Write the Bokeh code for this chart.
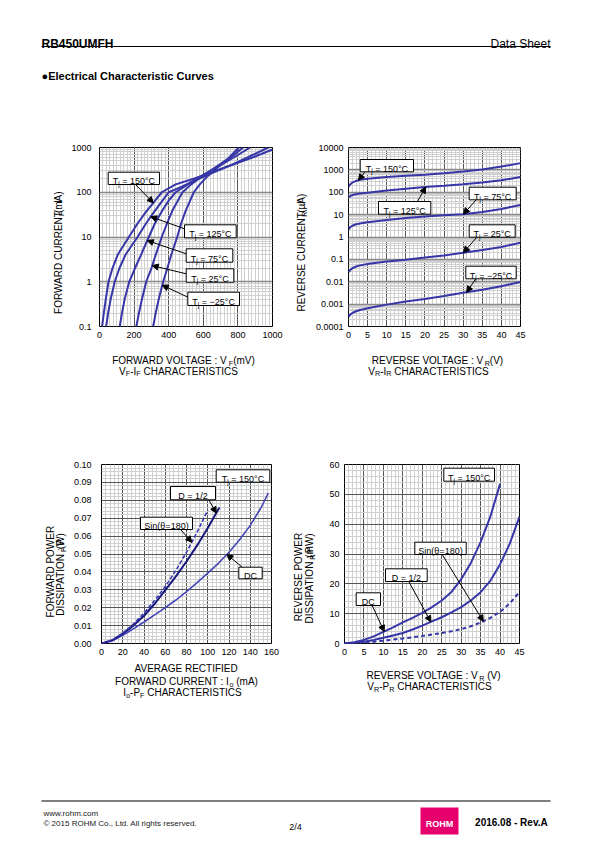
import numpy as np
from bokeh.plotting import figure
from bokeh.models import (Range1d, FixedTicker, NumeralTickFormatter, Label,
                          Arrow, NormalHead, BoxAnnotation)
from bokeh.layouts import column, row
from bokeh.embed import file_html
from bokeh.resources import INLINE

FONT = "Liberation Sans"
CURVE = "#3636a8"
NAVY = "#17177c"
MAJOR = "#555555"
MINOR = "#d0d0d0"

# ---------------- VF-IF (mV, mA) ----------------
vf_150 = [15, 25, 36, 52, 75, 105, 170, 220, 265, 311, 360, 440, 545, 650, 760, 880, 1000]
if_150 = [0.1, 0.2, 0.4, 1, 2, 4, 10, 20, 35, 58, 100, 150, 200, 280, 400, 590, 900]
vf_125 = [38, 50, 64, 88, 115, 150, 220, 265, 300, 350, 400, 470, 560, 660, 770, 870, 975]
if_125 = [0.1, 0.2, 0.4, 1, 2, 4, 10, 19, 30, 55, 100, 130, 190, 280, 420, 640, 1000]
vf_75 = [117, 130, 145, 172, 205, 240, 285, 320, 365, 400, 440, 500, 560, 640, 720, 800, 870]
if_75 = [0.1, 0.2, 0.4, 1, 2, 4, 10, 20, 40, 65, 100, 140, 200, 300, 450, 680, 1000]
vf_25 = [213, 228, 245, 270, 300, 325, 360, 390, 420, 450, 480, 530, 580, 640, 700, 770, 830]
if_25 = [0.1, 0.2, 0.4, 1, 2, 4, 10, 20, 38, 62, 100, 150, 210, 300, 430, 650, 1000]
vf_m25 = [310, 325, 342, 368, 392, 415, 449, 472, 495, 520, 545, 580, 620, 680, 740, 805]
if_m25 = [0.1, 0.2, 0.4, 1, 2, 4, 10, 20, 36, 60, 100, 150, 220, 350, 550, 1000]
vfif_xticks = [0, 200, 400, 600, 800, 1000]
vfif_yticks = [0.1, 1, 10, 100, 1000]

# ---------------- VR-IR (V, uA) ----------------
vr_v = [0, 0.5, 1, 2, 3, 5, 10, 15, 20, 25, 30, 35, 40, 45]
ir_150 = [180, 230, 270, 320, 360, 400, 480, 540, 600, 700, 850, 1050, 1400, 2000]
ir_125 = [60, 68, 75, 82, 88, 96, 120, 145, 170, 195, 225, 270, 340, 480]
ir_75 = [2.2, 2.8, 3.2, 3.7, 4.0, 4.6, 5.8, 7.0, 8.2, 9.3, 10.5, 13, 18, 27]
ir_25 = [0.027, 0.034, 0.04, 0.048, 0.054, 0.062, 0.08, 0.097, 0.12, 0.15, 0.2, 0.26, 0.36, 0.55]
ir_m25 = [0.00027, 0.00035, 0.0004, 0.00048, 0.00055, 0.00066, 0.00095, 0.0013, 0.0017,
          0.0023, 0.0032, 0.0044, 0.0063, 0.0098]
vrir_xticks = [0, 5, 10, 15, 20, 25, 30, 35, 40, 45]
vrir_yticks = [0.0001, 0.001, 0.01, 0.1, 1, 10, 100, 1000, 10000]

# ---------------- Io-PF (mA, W) ----------------
io_dc = [0, 10, 20, 30, 40, 50, 60, 70, 80, 90, 100, 110, 120, 130, 140, 150, 157]
pf_dc = [0, 0.0015, 0.0046, 0.0082, 0.0120, 0.0160, 0.0200, 0.0243, 0.0290, 0.0340, 0.0393,
         0.0448, 0.0510, 0.0580, 0.0660, 0.0757, 0.0840]
io_d = [0, 10, 20, 30, 40, 50, 60, 70, 80, 90, 100, 111]
pf_d = [0, 0.0018, 0.0055, 0.0100, 0.0155, 0.0222, 0.0298, 0.0375, 0.0458, 0.0548, 0.0645, 0.0760]
io_s = [0, 10, 20, 30, 40, 50, 60, 70, 80, 90, 100]
pf_s = [0, 0.0019, 0.0058, 0.0108, 0.0170, 0.0240, 0.0318, 0.0408, 0.0510, 0.0622, 0.0745]
iopf_xticks = [0, 20, 40, 60, 80, 100, 120, 140, 160]
iopf_yticks = [0, 0.01, 0.02, 0.03, 0.04, 0.05, 0.06, 0.07, 0.08, 0.09, 0.10]

# ---------------- VR-PR (V, mW) ----------------
vr_dc = [0, 2.5, 5, 7.5, 10, 12.5, 15, 17.5, 20, 22.5, 25, 27.5, 30, 32.5, 35, 37.5, 40]
pr_dc = [0, 0.4, 1.2, 2.4, 3.9, 5.4, 7.1, 8.6, 10.3, 12.2, 14.4, 17.3, 21.5, 27, 34, 42.5, 53.5]
vr_ds = [0, 2.5, 5, 7.5, 10, 12.5, 15, 17.5, 20, 22.5, 25, 27.5, 30, 32.5, 35, 37.5, 40, 42.5, 45]
pr_d = [0, 0.2, 0.6, 1.2, 1.9, 2.7, 3.5, 4.7, 6.0, 7.4, 8.8, 10.4, 12.2, 14.4, 17.2, 21, 26.5, 33.5, 42.5]
pr_s = [0, 0.1, 0.3, 0.6, 0.95, 1.3, 1.7, 2.1, 2.5, 3.0, 3.5, 4.1, 4.8, 5.8, 7.0, 8.6, 10.6, 13.4, 17.3]
vrpr_xticks = [0, 5, 10, 15, 20, 25, 30, 35, 40, 45]
vrpr_yticks = [0, 10, 20, 30, 40, 50, 60]

# ---------------- text helpers ----------------
AW = {' ': 278, '(': 333, ')': 333, '-': 333, '.': 278, '/': 278, ':': 278, '=': 584,
      '°': 400, 'µ': 556, '−': 584, 'θ': 556, ',': 278}
AW.update({d: 556 for d in "0123456789"})
AW.update(dict(zip("ABCDEFGHIJKLMNOPQRSTUVWXYZ",
                   [667, 667, 722, 722, 667, 611, 778, 722, 278, 500, 667, 556, 833, 722, 778,
                    667, 778, 722, 667, 611, 722, 667, 944, 667, 667, 611])))
AW.update(dict(zip("abcdefghijklmnopqrstuvwxyz",
                   [556, 556, 500, 556, 556, 278, 556, 556, 222, 222, 500, 222, 833, 556, 556,
                    556, 556, 333, 500, 278, 556, 500, 722, 500, 500, 500])))


def tw(s, size):
    return sum(AW.get(c, 556) for c in s) * size / 1000.0


def rich(p, fr, X, Y, pieces, size=10.0, align="center", vertical=False, color="black"):
    """Text pieces (text, is_subscript) from page coords X, Y (baseline anchor).
    fr = (frame_left, frame_bottom) for charts (screen units), None for page sheets."""
    sub = 0.72
    items = []
    for t, s in pieces:
        sz = size * sub if s else size
        items.append((t, s, sz, tw(t, sz)))
    total = sum(i[3] for i in items)
    pos = {"left": 0.0, "center": -total / 2, "right": -total}[align]
    for t, s, sz, w in items:
        lead = len(t) - len(t.lstrip(" "))
        txt = t.strip(" ")
        p0 = pos + tw(" " * lead, sz)
        off = size * 0.26 if s else 0.0
        if txt:
            if vertical:
                Xp = X + off - 0.3465 * sz
                Yp = Y - (p0 + tw(txt, sz) / 2)
                extra = dict(angle=np.pi / 2, text_align="center", text_baseline="middle")
            else:
                Xp, Yp = X + p0, Y + off
                extra = dict(angle=0.0, text_align="left", text_baseline="alphabetic")
            if fr is None:
                kw = dict(x=Xp, y=Yp)
            else:
                kw = dict(x=Xp - fr[0], y=fr[1] - Yp, x_units="screen", y_units="screen")
            p.add_layout(Label(text=txt, text_font=FONT, text_font_size=f"{sz:.2f}px",
                               text_color=color, **extra, **kw))
        pos += w


def tag(p, fr, box, pieces, size=9.0):
    x0, y0, x1, y1 = box
    p.add_layout(BoxAnnotation(left=x0 - fr[0], right=x1 - fr[0], top=fr[1] - y0,
                               bottom=fr[1] - y1, left_units="screen", right_units="screen",
                               top_units="screen", bottom_units="screen",
                               fill_color="white", fill_alpha=1.0, line_color="black",
                               line_alpha=1.0, line_width=1))
    rich(p, fr, (x0 + x1) / 2, (y0 + y1) / 2 + 3.0, pieces, size, "center")


def pointer(p, fr, X, Y, xd, yd):
    p.add_layout(Arrow(end=NormalHead(size=6, fill_color="black", line_color="black",
                                      line_width=1),
                       x_start=X - fr[0], y_start=fr[1] - Y, start_units="screen",
                       x_end=xd, y_end=yd, end_units="data",
                       line_color="black", line_width=1))


def on_curve(xs, ys, x, log=False):
    if log:
        return float(10 ** np.interp(x, xs, np.log10(ys)))
    return float(np.interp(x, xs, ys))


def tj(temp):
    return [("T", False), ("j", True), (" = " + temp, False)]


def chart(px, py, width, height, ml, mr, mt, mb, xr, yr, ylog, xt, xminor, yt, yminor,
          ystand, xstand, yfmt=None):
    p = figure(width=width, height=height, min_border_left=ml, min_border_right=mr,
               min_border_top=mt, min_border_bottom=mb, x_range=Range1d(*xr),
               y_range=Range1d(*yr), y_axis_type=("log" if ylog else "linear"),
               output_backend="svg", toolbar_location=None)
    xtk = FixedTicker(ticks=xt, minor_ticks=xminor)
    ytk = FixedTicker(ticks=yt, minor_ticks=yminor)
    p.xaxis.ticker = xtk
    p.yaxis.ticker = ytk
    p.xgrid.ticker = xtk
    p.ygrid.ticker = ytk
    if yfmt is not None:
        p.yaxis.formatter = yfmt
    for ax in (p.xaxis, p.yaxis):
        ax.major_tick_out = 0
        ax.major_tick_in = 0
        ax.minor_tick_out = 0
        ax.minor_tick_in = 0
        ax.axis_line_color = None
        ax.major_label_text_font = FONT
        ax.major_label_text_font_size = "9px"
        ax.major_label_text_color = "black"
    p.yaxis.major_label_standoff = ystand
    p.xaxis.major_label_standoff = xstand
    for g in (p.xgrid, p.ygrid):
        g.grid_line_color = MAJOR
        g.grid_line_width = 1
        g.minor_grid_line_color = MINOR
        g.minor_grid_line_width = 1
    if ylog:
        p.ygrid.grid_line_color = "#8a8a8a"
        p.ygrid.grid_line_width = 1.5
    p.outline_line_color = "black"
    p.outline_line_width = 1
    p.outline_line_alpha = 1
    p.background_fill_color = "white"
    p.border_fill_color = "white"
    fr = (px + ml, py + height - mb)   # frame left / bottom in page coords
    return p, fr


def sheet(x0, x1, y0, y1):
    """Plain text area whose data units are page pixels."""
    p = figure(width=int(x1 - x0), height=int(y1 - y0), x_range=Range1d(x0, x1),
               y_range=Range1d(y1, y0), output_backend="svg", toolbar_location=None,
               min_border=0, x_axis_location=None, y_axis_location=None)
    p.grid.visible = False
    p.outline_line_color = None
    p.background_fill_color = "white"
    p.border_fill_color = "white"
    return p


def put(p, x, y, text, size, align="left", bold=False, color="black"):
    p.add_layout(Label(x=x, y=y, text=text, text_font=FONT, text_font_size=f"{size}px",
                       text_align=align, text_baseline="alphabetic", text_color=color,
                       text_font_style=("bold" if bold else "normal")))


decade_minor = [d * m for d in [0.0001, 0.001, 0.01, 0.1, 1, 10, 100, 1000] for m in range(2, 10)]

# ---------------- Chart 1 : VF-IF ----------------
p1, fr1 = chart(66, 100, 224, 246, 33, 18, 47, 20, (0, 1000), (0.1, 1000), True,
                vfif_xticks, list(range(20, 1000, 20)), vfif_yticks,
                [v for v in decade_minor if 0.1 < v < 1000], 8, 5,
                NumeralTickFormatter(format="0.[0000]"))
for xs, ys in [(vf_150, if_150), (vf_125, if_125), (vf_75, if_75), (vf_25, if_25), (vf_m25, if_m25)]:
    p1.line(xs, ys, line_color=CURVE, line_width=2)
pointer(p1, fr1, 135, 184, 311, on_curve(vf_150, if_150, 311, True))
pointer(p1, fr1, 184, 228.3, 296, on_curve(vf_125, if_125, 296, True))
pointer(p1, fr1, 185.7, 253.3, 276, on_curve(vf_75, if_75, 276, True))
pointer(p1, fr1, 185.7, 273.3, 305, on_curve(vf_25, if_25, 305, True))
pointer(p1, fr1, 187.3, 296.7, 363, on_curve(vf_m25, if_m25, 363, True))
tag(p1, fr1, (107.7, 171.7, 159, 184), tj("150°C"))
tag(p1, fr1, (184, 224.3, 235.7, 237.3), tj("125°C"))
tag(p1, fr1, (185.7, 248.3, 232.3, 261.7), tj("75°C"))
tag(p1, fr1, (185.7, 268.3, 233.3, 281.7), tj("25°C"))
tag(p1, fr1, (187.3, 291.7, 239, 305), tj("−25°C"))
yl1 = sheet(0, 66, 100, 346)
rich(yl1, None, 61, 236, [("FORWARD CURRENT : I", False), ("F", True), (" (mA)", False)], 10, "center", True)
xl1 = sheet(0, 290, 346, 390)
rich(xl1, None, 183, 360.3, [("FORWARD VOLTAGE : V", False), ("F", True), ("(mV)", False)], 10)
rich(xl1, None, 178, 370.5, [("V", False), ("F", True), ("-I", False), ("F", True), (" CHARACTERISTICS", False)], 10)

# ---------------- Chart 2 : VR-IR ----------------
p2, fr2 = chart(312, 100, 283, 246, 33, 75, 47, 20, (0, 45), (0.0001, 10000), True,
                vrir_xticks, [v for v in range(1, 45) if v % 5], vrir_yticks, decade_minor, 5, 5,
                NumeralTickFormatter(format="0.[0000]"))
for ys in [ir_150, ir_125, ir_75, ir_25, ir_m25]:
    p2.line(vr_v, ys, line_color=CURVE, line_width=2)
pointer(p2, fr2, 361.7, 171, 2.6, on_curve(vr_v, ir_150, 2.6, True))
pointer(p2, fr2, 414, 201, 20.2, on_curve(vr_v, ir_125, 20.2, True))
pointer(p2, fr2, 472.7, 199.3, 30.1, on_curve(vr_v, ir_75, 30.1, True))
pointer(p2, fr2, 473.3, 236.7, 30.1, on_curve(vr_v, ir_25, 30.1, True))
pointer(p2, fr2, 472.3, 278.3, 30.9, on_curve(vr_v, ir_m25, 30.9, True))
tag(p2, fr2, (356.7, 159, 410, 171.3), tj("150°C"))
tag(p2, fr2, (375, 201, 427.3, 213.7), tj("125°C"))
tag(p2, fr2, (465.7, 186.7, 512.7, 199.3), tj("75°C"))
tag(p2, fr2, (465.7, 224.3, 511.7, 236.7), tj("25°C"))
tag(p2, fr2, (462.3, 265.7, 512.7, 278.3), tj("−25°C"))
yl2 = sheet(290, 312, 100, 346)
rich(yl2, None, 304, 236, [("REVERSE CURRENT : I", False), ("R", True), (" (µA)", False)], 10, "center", True)
xl2 = sheet(290, 595, 346, 390)
rich(xl2, None, 437, 360.3, [("REVERSE VOLTAGE : V", False), ("R", True), ("(V)", False)], 10)
rich(xl2, None, 428, 370.5, [("V", False), ("R", True), ("-I", False), ("R", True), (" CHARACTERISTICS", False)], 10)

# ---------------- Chart 3 : Io-PF ----------------
p3, fr3 = chart(68, 390, 222, 269, 33, 19, 74, 16, (0, 160), (0, 0.1), False,
                iopf_xticks, [v for v in range(4, 160, 4) if v % 20], iopf_yticks,
                [round(v * 0.002, 4) for v in range(1, 50) if v % 5], 10, 5,
                NumeralTickFormatter(format="0.00"))
p3.line(io_dc, pf_dc, line_color="#4545b8", line_width=1.6)
p3.line(io_d, pf_d, line_color=NAVY, line_width=2)
p3.line(io_s, pf_s, line_color="#3a3ab0", line_width=1.6, line_dash="4 2")
pointer(p3, fr3, 208.3, 499.3, 108, on_curve(io_d, pf_d, 108))
pointer(p3, fr3, 180, 529, 85, on_curve(io_s, pf_s, 85))
pointer(p3, fr3, 241.7, 566.7, 118, on_curve(io_dc, pf_dc, 118))
tag(p3, fr3, (215.7, 469.3, 269.3, 481.7), tj("150°C"))
tag(p3, fr3, (170, 486, 215, 499.3), [("D = 1/2", False)])
tag(p3, fr3, (140, 516.7, 192, 529), [("Sin(θ=180)", False)])
tag(p3, fr3, (238.3, 566.7, 261.7, 578.3), [("DC", False)])
yl3 = sheet(0, 68, 390, 659)
rich(yl3, None, 53, 551, [("FORWARD POWER", False)], 10, "center", True)
rich(yl3, None, 63, 548, [("DISSIPATION : P", False), ("F", True), (" (W)", False)], 10, "center", True)
xl3 = sheet(0, 290, 659, 720)
rich(xl3, None, 186, 667.5, [("AVERAGE RECTIFIED", False)], 10)
rich(xl3, None, 186, 681.3, [("FORWARD CURRENT : I", False), ("o", True), (" (mA)", False)], 10)
rich(xl3, None, 182, 692, [("I", False), ("o", True), ("-P", False), ("F", True), (" CHARACTERISTICS", False)], 10)

# ---------------- Chart 4 : VR-PR ----------------
p4, fr4 = chart(318, 390, 277, 269, 26, 76, 74, 16, (0, 45), (0, 60), False,
                vrpr_xticks, [v for v in range(1, 45) if v % 5], vrpr_yticks,
                [v for v in range(2, 60, 2) if v % 10], 5, 5)
p4.line(vr_dc, pr_dc, line_color=CURVE, line_width=2)
p4.line(vr_ds, pr_d, line_color=CURVE, line_width=2)
p4.line(vr_ds, pr_s, line_color=CURVE, line_width=2, line_dash="4 3")
pointer(p4, fr4, 441.7, 554, 35.7, on_curve(vr_ds, pr_s, 35.7))
pointer(p4, fr4, 408.3, 581, 22.2, on_curve(vr_ds, pr_d, 22.2))
pointer(p4, fr4, 371.7, 605, 10.2, on_curve(vr_dc, pr_dc, 10.2))
tag(p4, fr4, (443.3, 467.7, 494, 480.7), tj("150°C"))
tag(p4, fr4, (414.3, 541.7, 465.7, 554), [("Sin(θ=180)", False)])
tag(p4, fr4, (385, 568.3, 426.7, 581), [("D = 1/2", False)])
tag(p4, fr4, (355.7, 592.3, 380, 605), [("DC", False)])
yl4 = sheet(290, 318, 390, 659)
rich(yl4, None, 301, 559, [("REVERSE POWER", False)], 10, "center", True)
rich(yl4, None, 312, 555, [("DISSIPATION : P", False), ("R", True), (" (mW)", False)], 10, "center", True)
xl4 = sheet(290, 595, 659, 720)
rich(xl4, None, 433, 675.3, [("REVERSE VOLTAGE : V", False), ("R", True), (" (V)", False)], 10)
rich(xl4, None, 429, 686, [("V", False), ("R", True), ("-P", False), ("R", True), (" CHARACTERISTICS", False)], 10)

# ---------------- header / footer ----------------
hd = sheet(0, 595, 0, 100)
put(hd, 41, 43, "RB450UMFH", 12, bold=True)
put(hd, 550, 43, "Data Sheet", 12, align="right")
hd.segment(x0=[41], y0=[46], x1=[550], y1=[46], line_color="black", line_width=1)
put(hd, 41, 75, "●Electrical Characteristic Curves", 11, bold=True)

ft = sheet(0, 595, 720, 840)
ft.segment(x0=[41], y0=[800.5], x1=[550], y1=[800.5], line_color="black", line_width=1)
put(ft, 43, 812.5, "www.rohm.com", 8, color="#222222")
put(ft, 43, 823, "© 2015  ROHM Co., Ltd. All rights reserved.", 8, color="#222222")
put(ft, 295, 826.5, "2/4", 9, align="center")
ft.quad(left=[420], right=[458], top=[807], bottom=[834], fill_color="#e5006e", line_color=None)
put(ft, 439, 823.5, "ROHM", 9, align="center", bold=True, color="white")
put(ft, 550, 822, "2016.08 -  Rev.A", 10, align="right", bold=True)

layout = column(hd,
                row(column(row(yl1, p1), xl1), column(row(yl2, p2), xl2)),
                row(column(row(yl3, p3), xl3), column(row(yl4, p4), xl4)),
                ft)
open("out.html", "w").write(file_html(layout, INLINE))
